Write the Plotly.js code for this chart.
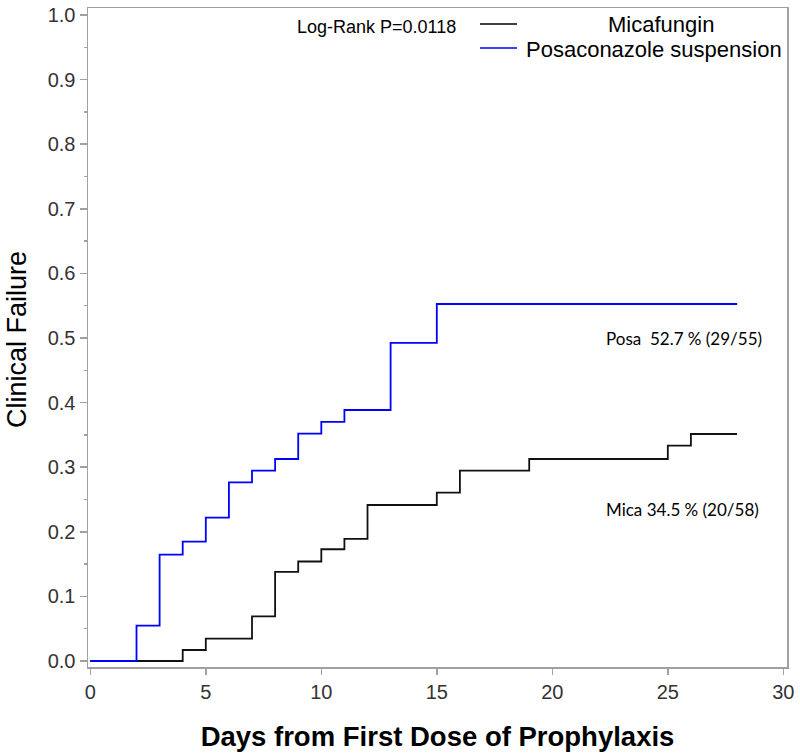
<!DOCTYPE html>
<html>
<head>
<meta charset="utf-8">
<script src="https://cdn.plot.ly/plotly-3.0.1.min.js"></script>
<style>
html, body { margin: 0; padding: 0; background: #fff; }
#chart { width: 800px; height: 753px; }
</style>
</head>
<body>
<div id="chart"></div>
<script>
// Data (step-function cumulative failure)
const micaDays = [0, 4, 5, 7, 8, 9, 10, 11, 12, 15, 16, 19, 25, 26, 28];
const micaFailure = [0, 0.017, 0.0345, 0.069, 0.138, 0.154, 0.173, 0.189, 0.2415, 0.2605, 0.2946, 0.3127, 0.3333, 0.3514, 0.3514];
const posaDays = [0, 2, 3, 4, 5, 6, 7, 8, 9, 10, 11, 13, 15, 28];
const posaFailure = [0, 0.0547, 0.1646, 0.1847, 0.2218, 0.2766, 0.2946, 0.3127, 0.3519, 0.37, 0.3885, 0.4923, 0.5526, 0.5526];
const seriesNames = ["Micafungin", "Posaconazole suspension"];
const pValueText = "Log-Rank P=0.0118";
const micaLabel = "Mica 34.5 % (20/58)";
const posaLabel = "Posa  52.7 % (29/55)";
const xTitle = "Days from First Dose of Prophylaxis";
const yTitle = "Clinical Failure";
const xTicks = [0, 5, 10, 15, 20, 25, 30];
const yTicks = [0, 0.1, 0.2, 0.3, 0.4, 0.5, 0.6, 0.7, 0.8, 0.9, 1.0];

const traces = [
  { x: micaDays, y: micaFailure, name: seriesNames[0], type: "scatter", mode: "lines",
    line: { shape: "hv", color: "#111111", width: 1.8 }, showlegend: false, hoverinfo: "skip" },
  { x: posaDays, y: posaFailure, name: seriesNames[1], type: "scatter", mode: "lines",
    line: { shape: "hv", color: "#0000ff", width: 1.8 }, showlegend: false, hoverinfo: "skip" }
];

const sans = "Liberation Sans, Arial, sans-serif";
const axisFont = { family: sans, size: 20, color: "#333333" };
const W = 699, H = 659, L = 88, T = 8;
const px = v => (v - L) / W;
const py = v => (T + H - v) / H;

const layout = {
  width: 800, height: 753,
  margin: { l: 88, r: 13, t: 8, b: 86 },
  paper_bgcolor: "#ffffff", plot_bgcolor: "#ffffff",
  xaxis: {
    range: [-0.1, 30.16], tickvals: xTicks, ticktext: xTicks.map(String),
    ticks: "outside", ticklen: 6, tickcolor: "#a0a0a0", tickwidth: 1.5,
    showline: true, linecolor: "#a0a0a0", linewidth: 1.5, mirror: true,
    showgrid: false, zeroline: false, tickfont: axisFont,
    title: { text: "<b>" + xTitle + "</b>", font: { family: sans, size: 27.5, color: "#000000" }, standoff: 25 }
  },
  yaxis: {
    range: [-0.0093, 1.0108], tickvals: yTicks, ticktext: yTicks.map(v => v.toFixed(1)),
    ticks: "outside", ticklen: 7, tickcolor: "#a0a0a0", tickwidth: 1.5,
    minor: { dtick: 0.05, ticks: "outside", ticklen: 3, tickcolor: "#a0a0a0", tickwidth: 1.5, tick0: 0 },
    showline: true, linecolor: "#a0a0a0", linewidth: 1.5, mirror: true,
    showgrid: false, zeroline: false, tickfont: axisFont,
    title: { text: "" }
  },
  shapes: [
    { type: "line", xref: "paper", yref: "paper", x0: px(480), x1: px(517), y0: py(24), y1: py(24), line: { color: "#000000", width: 1.5 } },
    { type: "line", xref: "paper", yref: "paper", x0: px(480), x1: px(517), y0: py(48), y1: py(48), line: { color: "#0000ff", width: 1.5 } }
  ],
  annotations: [
    { text: yTitle, xref: "paper", yref: "paper", x: px(17), y: py(340), xanchor: "center", yanchor: "middle", textangle: -90, showarrow: false,
      font: { family: sans, size: 27, color: "#000000" } },
    { text: pValueText, xref: "paper", yref: "paper", x: px(458), y: py(27), xanchor: "right", yanchor: "middle", showarrow: false,
      font: { family: sans, size: 18, color: "#000000" } },
    { text: seriesNames[0], xref: "paper", yref: "paper", x: px(661), y: py(25), xanchor: "center", yanchor: "middle", showarrow: false,
      font: { family: sans, size: 22, color: "#000000" } },
    { text: seriesNames[1], xref: "paper", yref: "paper", x: px(654), y: py(49), xanchor: "center", yanchor: "middle", showarrow: false,
      font: { family: sans, size: 22, color: "#000000" } },
    { text: posaLabel, xref: "paper", yref: "paper", x: px(604), y: py(338), xanchor: "left", yanchor: "middle", showarrow: false,
      font: { family: "Lato, Open Sans, sans-serif", size: 17, color: "#000000" } },
    { text: micaLabel, xref: "paper", yref: "paper", x: px(604), y: py(509), xanchor: "left", yanchor: "middle", showarrow: false,
      font: { family: "Lato, Open Sans, sans-serif", size: 17, color: "#000000" } }
  ]
};

Plotly.newPlot("chart", traces, layout, { displayModeBar: false, staticPlot: true });
</script>
</body>
</html>
